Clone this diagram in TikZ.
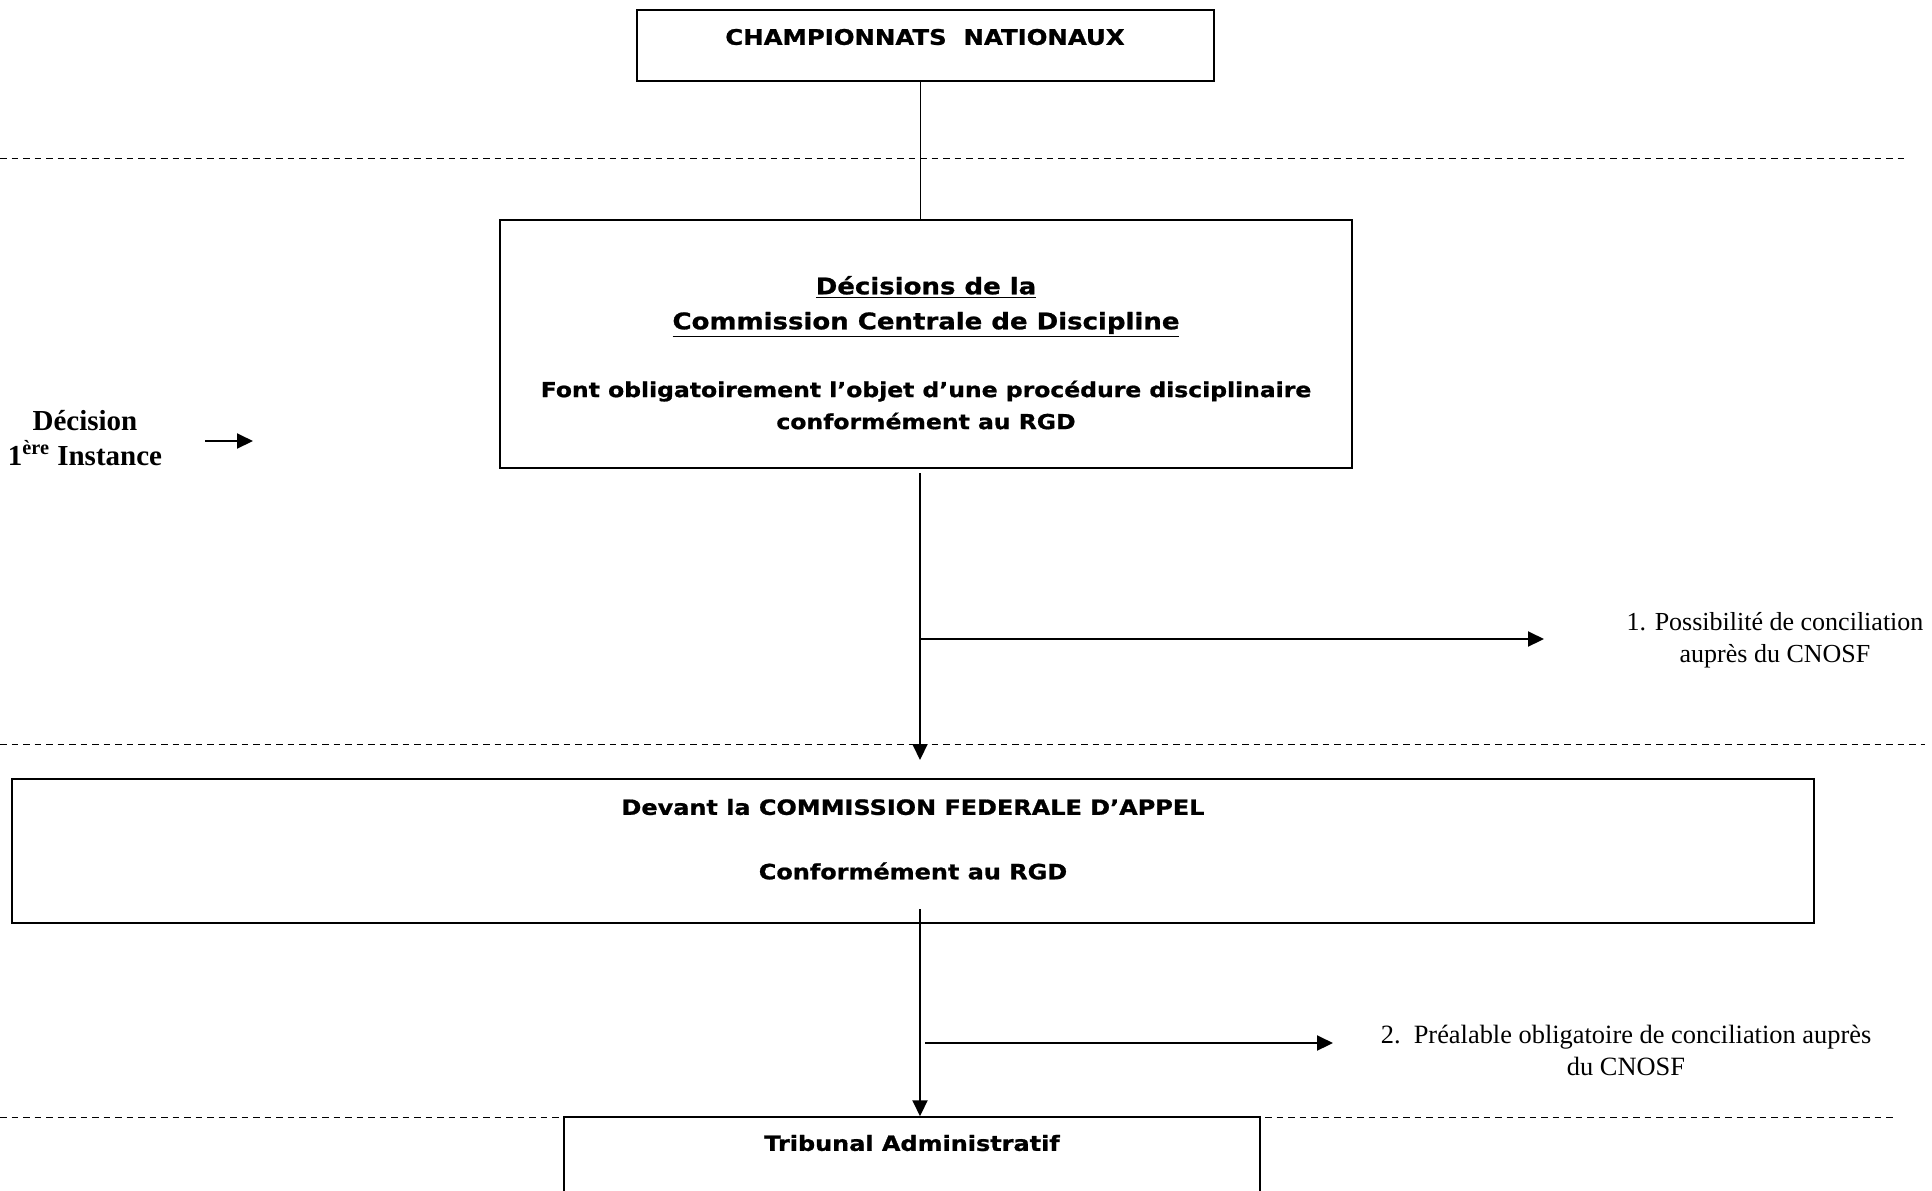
\documentclass[tikz,border=0pt]{standalone}
\usepackage{fontspec}
\setmainfont{Liberation Serif}
\newfontfamily\tahoma[FakeStretch=1.14,BoldFeatures={FakeBold=1}]{DejaVu Sans}
\usetikzlibrary{arrows.meta}
\tikzset{cadre/.append style={draw, line width=0.75pt, inner sep=0pt}}
\tikzset{titre/.append style={font=\tahoma\bfseries, align=center, inner sep=0pt}}
\tikzset{note/.append style={align=center, inner sep=0pt}}
\tikzset{fleche/.append style={-{Triangle[length=8pt,width=7.5pt]}, line width=1pt}}
\tikzset{sep/.append style={dash pattern=on 3.25pt off 2.5pt, line width=0.5pt}}

\begin{document}
\begin{tikzpicture}[x=0.5pt,y=-0.5pt]
                \useasboundingbox (0,0) rectangle (1932,1190);
                \clip (0,0) rectangle (1932,1190);
                % separateurs
                \draw[sep] (0,158) -- (1907,158);
                \draw[sep] (0,744) -- (1925,744);
                \draw[sep] (0,1117) -- (1897,1117);
                % cadres
                \node[cadre, minimum width=288.5pt, minimum height=35.5pt, fill=white] (champ) at (925.5,45.5) {};
                \node[cadre, minimum width=426pt, minimum height=124pt] (ccd) at (926,344) {};
                \node[cadre, minimum width=901pt, minimum height=72pt] (cfa) at (913,851) {};
                \node[cadre, minimum width=348pt, minimum height=80pt, fill=white] (ta) at (912,1197) {};
                % textes
                \node[titre, font=\tahoma\bfseries\fontsize{10.7}{12}\selectfont] (champtxt) at (925,37) {CHAMPIONNATS\ \ NATIONAUX};
                \node[titre, font=\tahoma\bfseries\fontsize{11.4}{17.5}\selectfont] (ccdtitre) at (926,307) {\underline{Décisions de la}\\\underline{Commission Centrale de Discipline}};
                \node[titre, font=\tahoma\bfseries\fontsize{10.3}{16}\selectfont] (ccdtxt) at (926,405) {Font obligatoirement l’objet d’une procédure disciplinaire\\conformément au RGD};
                \node[titre, font=\tahoma\bfseries\fontsize{10.5}{16}\selectfont] (cfatitre) at (913,807) {Devant la COMMISSION FEDERALE D’APPEL};
                \node[titre, font=\tahoma\bfseries\fontsize{10.5}{16}\selectfont] (cfatxt) at (913,871) {Conformément au RGD};
                \node[titre, font=\tahoma\bfseries\fontsize{10.5}{16}\selectfont] (tatxt) at (912,1143) {Tribunal Administratif};
                \node[note, font=\bfseries\fontsize{14.5}{17.5}\selectfont] (instance) at (85,438) {Décision\\1\textsuperscript{ère} Instance};
                \node[note, font=\fontsize{13}{16}\selectfont] (concil1) at (1775,640) {1. Possibilité de conciliation\\auprès du CNOSF};
                \node[note, font=\fontsize{13.2}{16}\selectfont] (concil2) at (1626,1050) {2.\ \ Préalable obligatoire de conciliation auprès\\du CNOSF};
                % points libres
                \coordinate (axe) at (920,0);
                \coordinate (d1) at (920,473);
                \coordinate (f1) at (920,760);
                \coordinate (d2) at (920,909);
                \coordinate (h1a) at (920,639);
                \coordinate (h1b) at (1544,639);
                \coordinate (h2a) at (925,1043);
                \coordinate (h2b) at (1333,1043);
                \coordinate (ga) at (205,441);
                \coordinate (gb) at (253,441);
                % liaisons
                \draw[line width=0.5pt] (champ.south -| axe) -- (ccd.north -| axe);
                \draw[fleche] (d1) -- (f1);
                \draw[fleche] (h1a) -- (h1b);
                \draw[fleche] (d2) -- (ta.north -| axe);
                \draw[fleche] (h2a) -- (h2b);
                \draw[fleche] (ga) -- (gb);
            \end{tikzpicture}
\end{document}
